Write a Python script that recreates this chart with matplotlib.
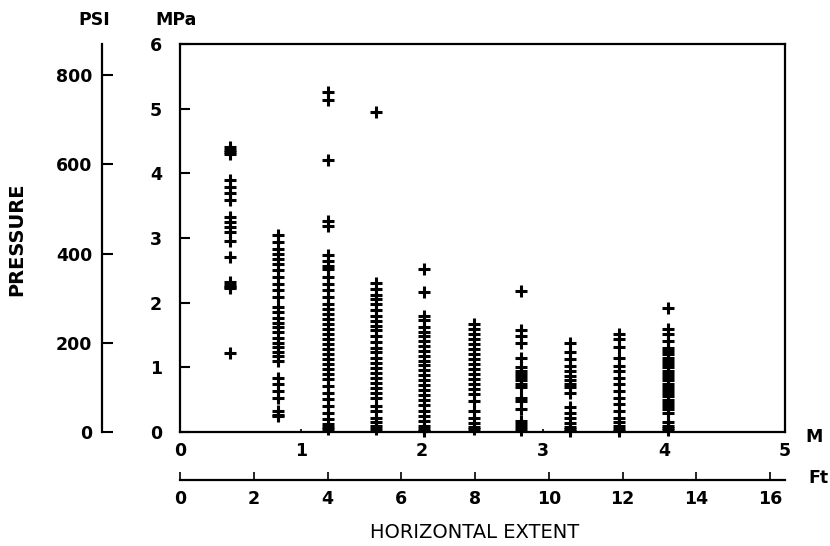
import matplotlib
matplotlib.use("Agg")
import matplotlib.pyplot as plt
import numpy as np

plt.rcParams['font.family'] = ['DejaVu Sans']

# Column positions (m) and measured pressures (MPa)
col_x = [0.41, 0.81, 1.22, 1.62, 2.02, 2.43, 2.82, 3.22, 3.63, 4.03]

col1 = [4.40, 4.36, 4.33, 4.30, 3.89, 3.79, 3.69, 3.58, 3.32, 3.25, 3.17, 3.09,
        2.96, 2.70, 2.32, 2.28, 2.25, 2.22, 1.22]
col2 = [3.04, 2.94, 2.83, 2.75, 2.68, 2.60, 2.50, 2.39, 2.29, 2.19, 2.08, 1.93,
        1.85, 1.77, 1.69, 1.62, 1.54, 1.46, 1.38, 1.31, 1.23, 1.18, 1.10, 0.84,
        0.74, 0.64, 0.53, 0.33, 0.27, 0.25]
col3 = [5.26, 5.13, 4.20, 3.27, 3.19, 2.73, 2.65, 2.57, 2.52, 2.39, 2.29, 2.19,
        2.08, 1.98, 1.90, 1.82, 1.75, 1.67, 1.59, 1.51, 1.44, 1.36, 1.28, 1.20,
        1.13, 1.05, 0.97, 0.89, 0.82, 0.71, 0.61, 0.51, 0.40, 0.30, 0.20, 0.12,
        0.07, 0.04]
col4 = [4.95, 2.31, 2.21, 2.12, 2.06, 1.98, 1.88, 1.80, 1.72, 1.64, 1.57, 1.49,
        1.39, 1.30, 1.23, 1.15, 1.07, 0.99, 0.92, 0.84, 0.76, 0.68, 0.61, 0.53,
        0.40, 0.33, 0.22, 0.15, 0.09, 0.04]
col5 = [2.52, 2.16, 1.80, 1.73, 1.62, 1.55, 1.48, 1.40, 1.33, 1.25, 1.17, 1.10,
        1.03, 0.96, 0.88, 0.80, 0.72, 0.65, 0.57, 0.49, 0.41, 0.33, 0.25, 0.17,
        0.10, 0.05, 0.02]
col6 = [1.67, 1.60, 1.52, 1.44, 1.36, 1.28, 1.20, 1.13, 1.05, 0.97, 0.89, 0.82,
        0.74, 0.66, 0.59, 0.48, 0.33, 0.22, 0.14, 0.08, 0.04]
col7 = [2.18, 1.57, 1.49, 1.38, 1.15, 1.00, 0.95, 0.90, 0.85, 0.80, 0.75, 0.70,
        0.53, 0.48, 0.35, 0.17, 0.12, 0.07, 0.03]
col8 = [1.38, 1.23, 1.13, 1.02, 0.95, 0.87, 0.81, 0.75, 0.69, 0.61, 0.38, 0.30,
        0.22, 0.14, 0.08, 0.04, 0.02]
col9 = [1.51, 1.44, 1.31, 1.15, 1.02, 0.95, 0.84, 0.74, 0.64, 0.53, 0.43, 0.33,
        0.22, 0.15, 0.09, 0.04, 0.02]
col10 = [1.91, 1.59, 1.51, 1.41, 1.30, 1.25, 1.20, 1.15, 1.10, 1.05, 1.00, 0.95,
         0.90, 0.85, 0.80, 0.75, 0.70, 0.65, 0.60, 0.55, 0.50, 0.45, 0.40, 0.35,
         0.30, 0.15, 0.10, 0.06, 0.03]
columns = [col1, col2, col3, col4, col5, col6, col7, col8, col9, col10]

mpa_ticks = [0, 1, 2, 3, 4, 5, 6]
psi_ticks = [0, 200, 400, 600, 800]
m_ticks = [0, 1, 2, 3, 4, 5]
ft_ticks = [0, 2, 4, 6, 8, 10, 12, 14, 16]

PSI_PER_MPA = 145.038
FT_PER_M = 1 / 0.3048

W, H = 830, 546
PX2PT = 0.72
fig = plt.figure(figsize=(W / 100, H / 100), dpi=100)
L, R, B, T = 180, 785, 432, 44
ax = fig.add_axes([L / W, 1 - B / H, (R - L) / W, (B - T) / H])

for xv, ys in zip(col_x, columns):
    ax.plot([xv] * len(ys), ys, linestyle='none', marker='+', color='black',
            markersize=8.5, markeredgewidth=2.2, clip_on=False)

ax.set_xlim(0, 5)
ax.set_ylim(0, 6)
lw = 1.6
for s in ax.spines.values():
    s.set_linewidth(lw)
ax.set_yticks(mpa_ticks)
ax.set_xticks(m_ticks)
ax.tick_params(axis='y', direction='in', length=7, width=1.5, pad=13,
               labelsize=12.5)
ax.tick_params(axis='x', direction='in', length=2, width=1.2, pad=7,
               labelsize=12.5)
for lab in ax.get_xticklabels() + ax.get_yticklabels():
    lab.set_fontweight('bold')

# PSI axis
axp = ax.twinx()
axp.set_ylim(0, 6 * PSI_PER_MPA)
axp.yaxis.set_ticks_position('left')
axp.yaxis.set_label_position('left')
for k in ['right', 'top', 'bottom']:
    axp.spines[k].set_visible(False)
axp.spines['left'].set_position(('outward', 78 * PX2PT))
axp.spines['left'].set_linewidth(lw)
axp.set_yticks(psi_ticks)
axp.tick_params(axis='y', direction='in', length=8, width=1.5, pad=7,
                labelsize=12.5)
for lab in axp.get_yticklabels():
    lab.set_fontweight('bold')

# Ft axis
axf = ax.twiny()
axf.set_xlim(0, 5 * FT_PER_M)
axf.xaxis.set_ticks_position('bottom')
axf.xaxis.set_label_position('bottom')
for k in ['right', 'top', 'left']:
    axf.spines[k].set_visible(False)
axf.spines['bottom'].set_position(('outward', 48 * PX2PT))
axf.spines['bottom'].set_linewidth(lw)
axf.set_xticks(ft_ticks)
axf.tick_params(axis='x', direction='in', length=6, width=1.2, pad=7,
                labelsize=12.5)
for lab in axf.get_xticklabels():
    lab.set_fontweight('bold')

fs = 12.5
fig.text(94 / W, 1 - 20 / H, 'PSI', ha='center', va='center', fontsize=fs,
         fontweight='bold')
fig.text(176 / W, 1 - 20 / H, 'MPa', ha='center', va='center', fontsize=fs,
         fontweight='bold')
fig.text(814 / W, 1 - 437 / H, 'M', ha='center', va='center', fontsize=fs,
         fontweight='bold')
fig.text(818 / W, 1 - 478 / H, 'Ft', ha='center', va='center', fontsize=fs,
         fontweight='bold')
fig.text(17 / W, 1 - 239 / H, 'PRESSURE', ha='center', va='center',
         rotation=90, fontsize=14, fontweight='bold')
fig.text(475 / W, 1 - 532 / H, 'HORIZONTAL EXTENT', ha='center', va='center',
         fontsize=14)

fig.savefig('out.png', dpi=100)
